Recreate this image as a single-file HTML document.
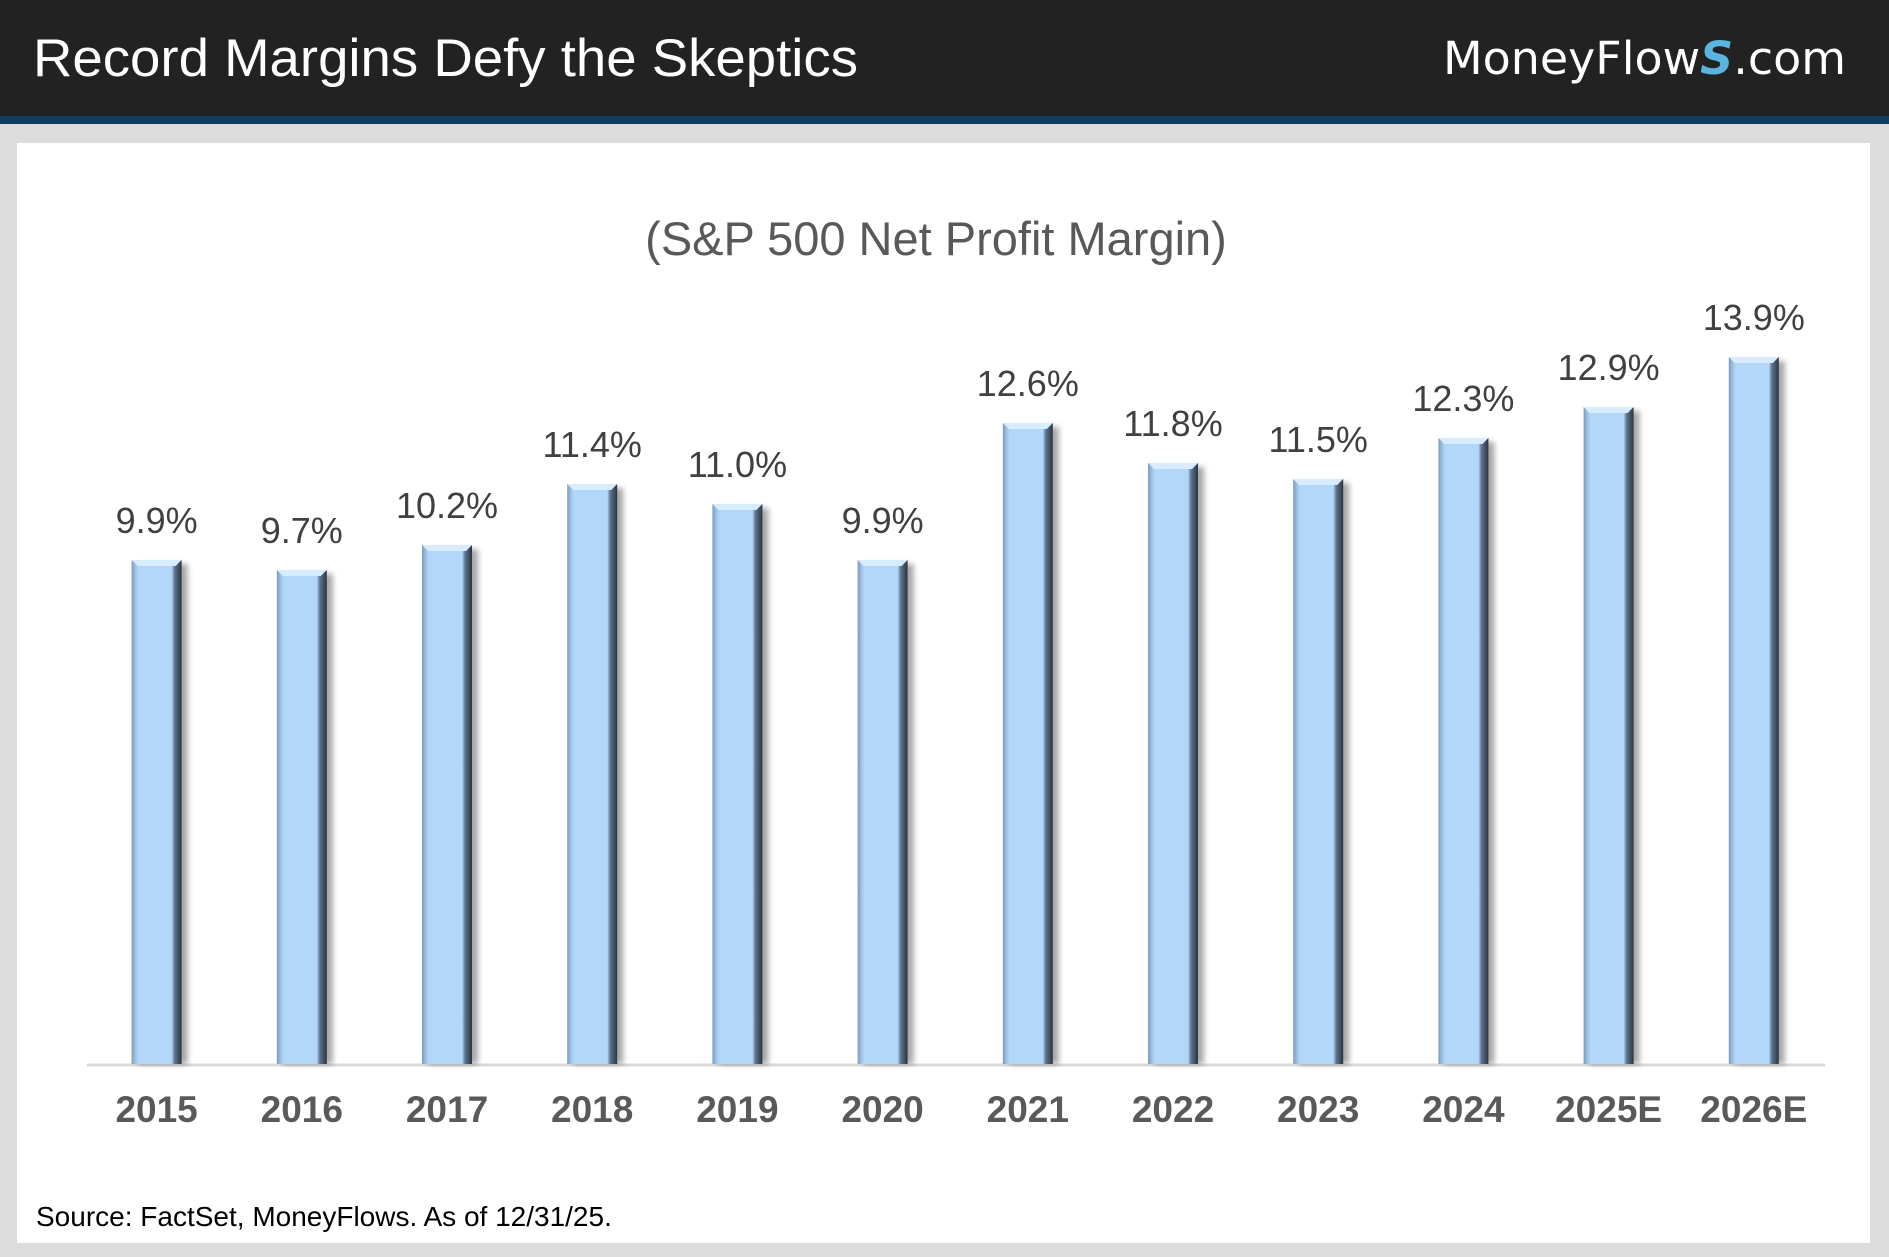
<!DOCTYPE html>
<html><head><meta charset="utf-8"><style>
html,body{margin:0;padding:0;background:#dcdcdc;}
svg{display:block;}
</style></head><body>
<svg width="1889" height="1257" viewBox="0 0 1889 1257" xmlns="http://www.w3.org/2000/svg">
<defs>
<linearGradient id="bg" x1="0" x2="1" y1="0" y2="0">
<stop offset="0" stop-color="#7f9bb8"/>
<stop offset="0.08" stop-color="#9fc3e6"/>
<stop offset="0.14" stop-color="#b3d7f9"/>
<stop offset="0.8" stop-color="#b3d7f9"/>
<stop offset="0.86" stop-color="#5d7590"/>
<stop offset="1" stop-color="#2a3440"/>
</linearGradient>
<filter id="sh" x="-30%" y="-5%" width="160%" height="110%"><feGaussianBlur stdDeviation="3"/></filter>
</defs>
<rect x="0" y="0" width="1889" height="1257" fill="#dcdcdc"/>
<rect x="0" y="0" width="1889" height="116" fill="#222222"/>
<rect x="0" y="116" width="1889" height="8" fill="#0f3c60"/>
<rect x="17" y="143" width="1853" height="1100" fill="#ffffff"/>
<text x="33" y="76" font-family="Liberation Sans, sans-serif" font-size="53" fill="#ffffff" textLength="825" lengthAdjust="spacingAndGlyphs">Record Margins Defy the Skeptics</text>
<text x="1846" y="74" text-anchor="end" font-family="DejaVu Sans, sans-serif" font-size="45" fill="#ffffff" textLength="403" lengthAdjust="spacingAndGlyphs">MoneyFlow<tspan fill="#5ab4e0" font-weight="bold" font-style="italic">S</tspan>.com</text>
<text x="936" y="255" text-anchor="middle" font-family="Liberation Sans, sans-serif" font-size="47" fill="#595959">(S&amp;P 500 Net Profit Margin)</text>
<line x1="87" y1="1065" x2="1825" y2="1065" stroke="#d9d9d9" stroke-width="3"/>
<g font-family="Liberation Sans, sans-serif">
<g transform="translate(131.6,560)"><rect x="6" y="4" width="50" height="500" fill="#000" opacity="0.35" filter="url(#sh)"/><rect width="50" height="504" fill="url(#bg)"/><polygon points="0,0 50,0 44,6 6,6" fill="#d8ecff"/></g>
<g transform="translate(276.8,570)"><rect x="6" y="4" width="50" height="490" fill="#000" opacity="0.35" filter="url(#sh)"/><rect width="50" height="494" fill="url(#bg)"/><polygon points="0,0 50,0 44,6 6,6" fill="#d8ecff"/></g>
<g transform="translate(422,545)"><rect x="6" y="4" width="50" height="515" fill="#000" opacity="0.35" filter="url(#sh)"/><rect width="50" height="519" fill="url(#bg)"/><polygon points="0,0 50,0 44,6 6,6" fill="#d8ecff"/></g>
<g transform="translate(567.2,484)"><rect x="6" y="4" width="50" height="576" fill="#000" opacity="0.35" filter="url(#sh)"/><rect width="50" height="580" fill="url(#bg)"/><polygon points="0,0 50,0 44,6 6,6" fill="#d8ecff"/></g>
<g transform="translate(712.4,504)"><rect x="6" y="4" width="50" height="556" fill="#000" opacity="0.35" filter="url(#sh)"/><rect width="50" height="560" fill="url(#bg)"/><polygon points="0,0 50,0 44,6 6,6" fill="#d8ecff"/></g>
<g transform="translate(857.6,560)"><rect x="6" y="4" width="50" height="500" fill="#000" opacity="0.35" filter="url(#sh)"/><rect width="50" height="504" fill="url(#bg)"/><polygon points="0,0 50,0 44,6 6,6" fill="#d8ecff"/></g>
<g transform="translate(1002.8,423)"><rect x="6" y="4" width="50" height="637" fill="#000" opacity="0.35" filter="url(#sh)"/><rect width="50" height="641" fill="url(#bg)"/><polygon points="0,0 50,0 44,6 6,6" fill="#d8ecff"/></g>
<g transform="translate(1148,463)"><rect x="6" y="4" width="50" height="597" fill="#000" opacity="0.35" filter="url(#sh)"/><rect width="50" height="601" fill="url(#bg)"/><polygon points="0,0 50,0 44,6 6,6" fill="#d8ecff"/></g>
<g transform="translate(1293.2,479)"><rect x="6" y="4" width="50" height="581" fill="#000" opacity="0.35" filter="url(#sh)"/><rect width="50" height="585" fill="url(#bg)"/><polygon points="0,0 50,0 44,6 6,6" fill="#d8ecff"/></g>
<g transform="translate(1438.4,438)"><rect x="6" y="4" width="50" height="622" fill="#000" opacity="0.35" filter="url(#sh)"/><rect width="50" height="626" fill="url(#bg)"/><polygon points="0,0 50,0 44,6 6,6" fill="#d8ecff"/></g>
<g transform="translate(1583.6,407)"><rect x="6" y="4" width="50" height="653" fill="#000" opacity="0.35" filter="url(#sh)"/><rect width="50" height="657" fill="url(#bg)"/><polygon points="0,0 50,0 44,6 6,6" fill="#d8ecff"/></g>
<g transform="translate(1728.8,357)"><rect x="6" y="4" width="50" height="703" fill="#000" opacity="0.35" filter="url(#sh)"/><rect width="50" height="707" fill="url(#bg)"/><polygon points="0,0 50,0 44,6 6,6" fill="#d8ecff"/></g>
<g font-size="36" fill="#404040" text-anchor="middle">
<text x="156.6" y="533">9.9%</text>
<text x="301.8" y="543">9.7%</text>
<text x="447" y="518">10.2%</text>
<text x="592.2" y="457">11.4%</text>
<text x="737.4" y="477">11.0%</text>
<text x="882.6" y="533">9.9%</text>
<text x="1027.8" y="396">12.6%</text>
<text x="1173" y="436">11.8%</text>
<text x="1318.2" y="452">11.5%</text>
<text x="1463.4" y="411">12.3%</text>
<text x="1608.6" y="380">12.9%</text>
<text x="1753.8" y="330">13.9%</text>
</g>
<g font-size="37" font-weight="bold" fill="#595959" text-anchor="middle">
<text x="156.6" y="1122">2015</text>
<text x="301.8" y="1122">2016</text>
<text x="447" y="1122">2017</text>
<text x="592.2" y="1122">2018</text>
<text x="737.4" y="1122">2019</text>
<text x="882.6" y="1122">2020</text>
<text x="1027.8" y="1122">2021</text>
<text x="1173" y="1122">2022</text>
<text x="1318.2" y="1122">2023</text>
<text x="1463.4" y="1122">2024</text>
<text x="1608.6" y="1122">2025E</text>
<text x="1753.8" y="1122">2026E</text>
</g>
</g>
<text x="36" y="1226" font-family="Liberation Sans, sans-serif" font-size="28" fill="#000">Source: FactSet, MoneyFlows. As of 12/31/25.</text>
</svg>
</body></html>
